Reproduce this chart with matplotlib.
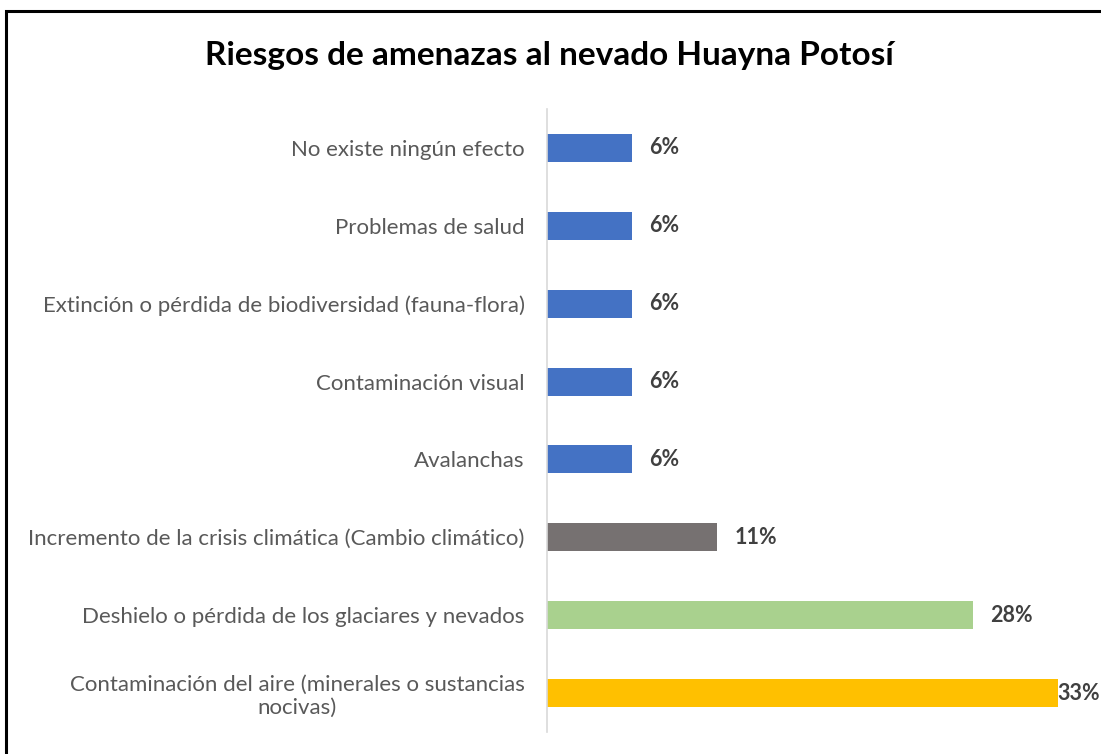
import matplotlib
matplotlib.use('Agg')
from matplotlib import pyplot as plt
from matplotlib.patches import Rectangle
import numpy as np

# categories from top to bottom
categories = [
    'No existe ningún efecto',
    'Problemas de salud',
    'Extinción o pérdida de biodiversidad (fauna-flora)',
    'Contaminación visual',
    'Avalanchas',
    'Incremento de la crisis climática (Cambio climático)',
    'Deshielo o pérdida de los glaciares y nevados',
    'Contaminación del aire (minerales o sustancias\nnocivas)',
]
values = [5.56, 5.56, 5.56, 5.56, 5.56, 11.11, 27.78, 33.33]
value_labels = ['6%', '6%', '6%', '6%', '6%', '11%', '28%', '33%']
colors = ['#4472C4'] * 5 + ['#767171', '#A9D18E', '#FFC000']

plt.rcParams['font.family'] = ['Lato', 'DejaVu Sans']

W, H = 1101, 754
fig = plt.figure(figsize=(W / 100, H / 100), dpi=100)

# axes placed in pixel terms
x0, x1 = 547, 1101
y_top, y_bot = 109, 732
ax = fig.add_axes([x0 / W, 1 - y_bot / H, (x1 - x0) / W, (y_bot - y_top) / H])

px_per_pct = 15.33
xmax = (x1 - x0) / px_per_pct
ax.set_xlim(0, xmax)
ax.set_ylim(len(categories) - 0.5, -0.5)

y = np.arange(len(categories))
ax.barh(y, values, height=0.36, color=colors)

# value labels; a label that would run past the edge is pulled back inside
for yi, v, lab in zip(y, values, value_labels):
    xl = v + 17 / px_per_pct
    if xl + 42 / px_per_pct > xmax:
        ax.text(xmax - 1 / px_per_pct, yi, lab, va='center', ha='right',
                fontsize=15.5, fontweight='bold', color='#404040', clip_on=False)
    else:
        ax.text(xl, yi, lab, va='center', ha='left',
                fontsize=15.5, fontweight='bold', color='#404040', clip_on=False)

ax.set_yticks(y)
ax.set_yticklabels(categories, fontsize=16, color='#595959',
                   multialignment='center', linespacing=1.15)
ax.tick_params(axis='y', length=0, pad=16)
ax.set_xticks([])

for s in ['top', 'right', 'bottom']:
    ax.spines[s].set_visible(False)
ax.spines['left'].set_color('#D9D9D9')
ax.spines['left'].set_linewidth(1.2)

fig.text(549 / W, 1 - 56 / H, 'Riesgos de amenazas al nevado Huayna Potosí',
         ha='center', va='center', fontsize=24, fontweight='bold', color='black')

# outer frame (cropped on the right and bottom)
fig.patches.append(Rectangle((6.5 / W, -0.1), 1.2, 1 - 11 / H + 0.1,
                             transform=fig.transFigure, fill=False,
                             edgecolor='black', linewidth=2.2))

plt.savefig('out.png', dpi=100)
